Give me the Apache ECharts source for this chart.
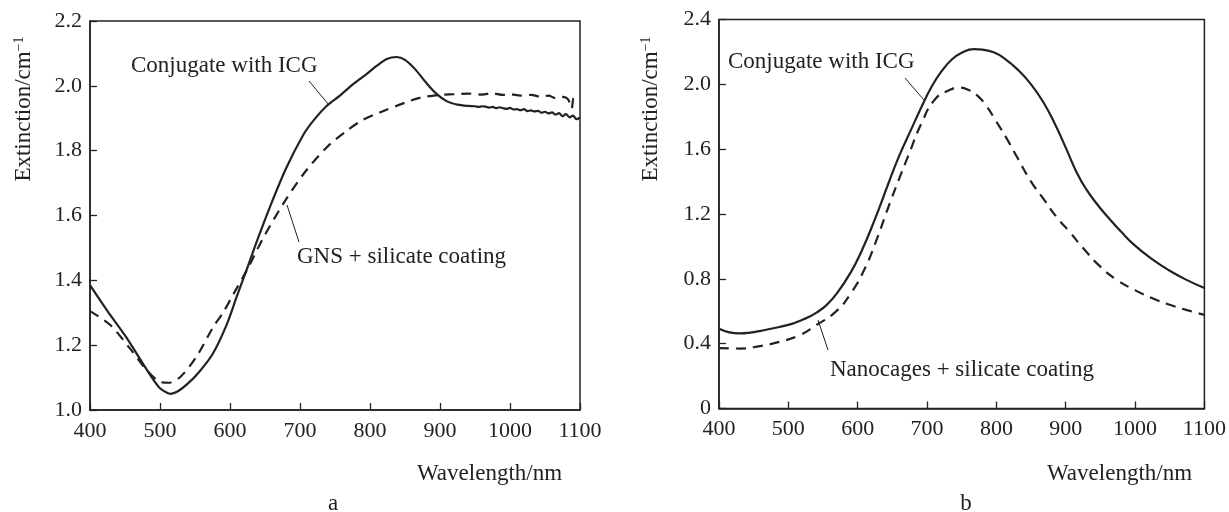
<!DOCTYPE html>
<html>
<head>
<meta charset="utf-8">
<script src="https://cdn.jsdelivr.net/npm/echarts@6/dist/echarts.min.js"></script>
<style>
html, body { margin: 0; padding: 0; background: #fff; }
#chart { width: 1229px; height: 512px; }
</style>
</head>
<body>
<div id="chart"></div>
<script>
// panel a: gold nanostars
const wlIcgA = [400, 425, 450, 475, 490, 500, 510, 515, 525, 540, 555, 575, 595, 610, 625, 640, 657, 680, 705, 720,
  738, 757, 776, 795, 810, 824, 838, 850, 865, 880, 895, 910, 925, 940,
  950, 955, 960, 965, 970, 975, 980, 985, 990, 995, 1000, 1005, 1010, 1015, 1020, 1025, 1030, 1035, 1040, 1045,
  1050, 1055, 1060, 1065, 1070, 1075, 1080, 1085, 1090, 1095, 1100];
const icgA = [1.385, 1.305, 1.23, 1.145, 1.095, 1.067, 1.053, 1.05, 1.057, 1.082, 1.115, 1.172, 1.262, 1.352, 1.44, 1.53, 1.626, 1.745, 1.85, 1.895,
  1.938, 1.97, 2.005, 2.036, 2.062, 2.083, 2.089, 2.08, 2.05, 2.01, 1.975, 1.952, 1.942, 1.938,
  1.937, 1.935, 1.937, 1.936, 1.933, 1.935, 1.931, 1.934, 1.931, 1.929, 1.932, 1.927, 1.928, 1.925, 1.928, 1.922, 1.924, 1.921, 1.923, 1.917,
  1.920, 1.915, 1.918, 1.911, 1.916, 1.906, 1.913, 1.903, 1.908, 1.897, 1.903];
const wlGnsA = [400, 429, 457, 481, 500, 512, 529, 552, 576, 590, 605, 624, 648, 676, 705, 738, 767, 790, 814, 850, 871, 900,
  920, 940, 960, 975, 990, 1000, 1015, 1030, 1045, 1055, 1065, 1075, 1083, 1088, 1091, 1095, 1100];
const gnsA = [1.305, 1.262, 1.19, 1.123, 1.087, 1.084, 1.102, 1.164, 1.256, 1.30, 1.358, 1.431, 1.533, 1.636, 1.728, 1.81, 1.862, 1.895, 1.918, 1.948, 1.963, 1.972,
  1.974, 1.976, 1.973, 1.977, 1.972, 1.974, 1.970, 1.972, 1.966, 1.970, 1.962, 1.966, 1.958, 1.93, 1.962, 1.955, 1.952];

// panel b: nanocages
const wlIcgB = [400, 415, 430, 445, 460, 487, 505, 516, 530, 540, 555, 570, 590, 606, 625, 644, 660, 678, 693, 706,
  720, 735, 750, 768, 780, 797, 813, 830, 850, 868, 885, 901, 916, 930, 945, 960, 980, 1000, 1025, 1050, 1075, 1100];
const icgB = [0.492, 0.47, 0.463, 0.468, 0.479, 0.503, 0.522, 0.54, 0.566, 0.59, 0.638, 0.71, 0.84, 0.975, 1.17, 1.385, 1.56, 1.73, 1.87, 1.98,
  2.075, 2.15, 2.195, 2.217, 2.214, 2.196, 2.155, 2.094, 2.0, 1.888, 1.75, 1.60, 1.455, 1.35, 1.262, 1.185, 1.09, 1.005, 0.92, 0.85, 0.792, 0.743];
const wlCageB = [400, 430, 459, 487, 516, 540, 568, 590, 611, 628, 644, 660, 673, 692, 711, 730, 747, 760, 773, 785,
  800, 815, 830, 850, 868, 887, 906, 925, 950, 975, 1000, 1025, 1050, 1075, 1100];
const cageB = [0.372, 0.37, 0.385, 0.411, 0.452, 0.514, 0.596, 0.71, 0.87, 1.05, 1.24, 1.42, 1.56, 1.76, 1.905, 1.96, 1.98, 1.965, 1.929, 1.87,
  1.77, 1.665, 1.55, 1.40, 1.293, 1.18, 1.088, 0.99, 0.875, 0.79, 0.73, 0.68, 0.64, 0.607, 0.578];

const ink = '#222';
const serif = '"Liberation Serif", "Times New Roman", serif';

const pairs = (xs, ys) => xs.map((x, i) => [x, ys[i]]);

const axisX = (gridIndex) => ({
  type: 'value', gridIndex: gridIndex, min: 400, max: 1100, interval: 100,
  axisLine: { show: true, lineStyle: { color: ink, width: 1.5 } },
  axisTick: { show: true, inside: true, length: 7, lineStyle: { color: ink, width: 1.3 } },
  axisLabel: { color: ink, fontFamily: serif, fontSize: 22, margin: 10, formatter: v => String(v) },
  splitLine: { show: false }
});

const axisY = (gridIndex, min, max, step) => ({
  type: 'value', gridIndex: gridIndex, min: min, max: max, interval: step,
  axisLine: { show: true, lineStyle: { color: ink, width: 1.5 } },
  axisTick: { show: true, inside: true, length: 7, lineStyle: { color: ink, width: 1.3 } },
  axisLabel: { color: ink, fontFamily: serif, fontSize: 22, margin: 8,
    formatter: v => (v === 0 ? '0' : v.toFixed(1)) },
  splitLine: { show: false }
});

const curve = (name, xi, data, dashed, smooth) => ({
  name: name, type: 'line', xAxisIndex: xi, yAxisIndex: xi,
  data: data, smooth: smooth, showSymbol: false, animation: false,
  lineStyle: { color: ink, width: 2.2, type: dashed ? [10, 7] : 'solid' }
});

const label = (text, x, y, align) => ({
  type: 'text', x: x, y: y,
  style: { text: text, font: '23px ' + serif, fill: ink,
    align: align || 'left', verticalAlign: 'middle', textAlign: align || 'left', textVerticalAlign: 'middle' }
});

const leader = (x1, y1, x2, y2) => ({
  type: 'line', shape: { x1: x1, y1: y1, x2: x2, y2: y2 },
  style: { stroke: ink, lineWidth: 1 }
});

const yTitle = (x, y) => ({
  type: 'text', x: x, y: y, rotation: Math.PI / 2,
  style: {
    text: '{n|Extinction/cm}{s|\u22121}',
    align: 'center', verticalAlign: 'middle', textAlign: 'center', textVerticalAlign: 'middle',
    rich: {
      n: { fontFamily: serif, fontSize: 23, fill: ink, color: ink },
      s: { fontFamily: serif, fontSize: 14, fill: ink, color: ink, verticalAlign: 'top' }
    }
  }
});

const chart = echarts.init(document.getElementById('chart'));
chart.setOption({
  backgroundColor: '#fff',
  animation: false,
  grid: [
    { left: 90, top: 21, width: 490, height: 389, show: true, borderColor: ink, borderWidth: 1.5 },
    { left: 719, top: 19.5, width: 489, height: 389, show: true, borderColor: ink, borderWidth: 1.5 }
  ],
  xAxis: [axisX(0), axisX(1)],
  yAxis: [axisY(0, 1.0, 2.2, 0.2), axisY(1, 0, 2.4, 0.4)],
  series: [
    curve('Conjugate with ICG', 0, pairs(wlIcgA, icgA), false, 0.3),
    curve('GNS + silicate coating', 0, pairs(wlGnsA, gnsA), true, 0.3),
    curve('Conjugate with ICG', 1, pairs(wlIcgB, icgB), false, 0.5),
    curve('Nanocages + silicate coating', 1, pairs(wlCageB, cageB), true, 0.5)
  ],
  graphic: [
    yTitle(24, 109),
    yTitle(651, 109),
    label('Wavelength/nm', 417, 474),
    label('Wavelength/nm', 1047, 474),
    label('a', 333, 504, 'center'),
    label('b', 966, 504, 'center'),
    label('Conjugate with ICG', 131, 66),
    leader(309, 81, 329, 105),
    label('GNS + silicate coating', 297, 257),
    leader(299, 242, 287, 205),
    label('Conjugate with ICG', 728, 62),
    leader(905, 78, 924, 100),
    label('Nanocages + silicate coating', 830, 370),
    leader(828, 350, 818, 320)
  ]
});
</script>
</body>
</html>
